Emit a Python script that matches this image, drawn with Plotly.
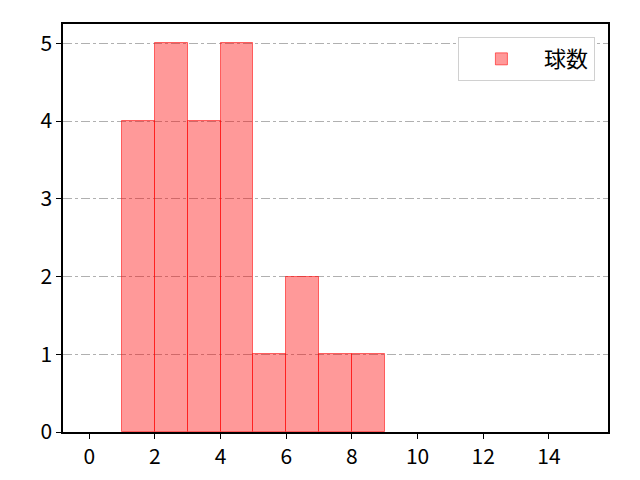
import plotly.graph_objects as go

# 球数のヒストグラム (ビン幅 1)
bin_left = [1, 2, 3, 4, 5, 6, 7, 8]
counts = [4, 5, 4, 5, 1, 2, 1, 1]
x_ticks = [0, 2, 4, 6, 8, 10, 12, 14]
y_ticks = [0, 1, 2, 3, 4, 5]
nome_serie = "球数"

FONTE = "Noto Sans CJK JP, Noto Sans, DejaVu Sans, sans-serif"

fig = go.Figure()

fig.add_trace(go.Bar(
    x=[b + 0.5 for b in bin_left],
    y=counts,
    width=1,
    name=nome_serie,
    marker=dict(
        color="rgba(255, 0, 0, 0.4)",
        line=dict(color="rgba(255, 0, 0, 0.55)", width=1),
    ),
    showlegend=True,
))

# a pagina tem margem de 8px no body, por isso as margens compensam
fig.update_layout(
    width=640,
    height=480,
    plot_bgcolor="white",
    paper_bgcolor="white",
    font=dict(family=FONTE, size=21, color="black"),
    margin=dict(l=55, r=40, t=16, b=56),
    bargap=0,
    showlegend=True,
    legend=dict(
        x=0.976, y=0.968, xanchor="right", yanchor="top",
        bgcolor="white",
        bordercolor="#d0d0d0", borderwidth=1,
        font=dict(size=22),
        itemwidth=75,
    ),
)

fig.update_xaxes(
    range=[-0.8, 15.8],
    tickvals=x_ticks,
    showgrid=False,
    zeroline=False,
    showline=True, linewidth=1.5, linecolor="black", mirror=True,
    ticks="outside", ticklen=5, tickwidth=1.2, tickcolor="black",
)
fig.update_yaxes(
    range=[0, 5.25],
    tickvals=y_ticks,
    showgrid=True, gridcolor="#b0b0b0", gridwidth=1, griddash="dashdot",
    zeroline=False,
    showline=True, linewidth=1.5, linecolor="black", mirror=True,
    ticks="outside", ticklen=5, tickwidth=1.2, tickcolor="black",
)

fig.write_html("out.html")
